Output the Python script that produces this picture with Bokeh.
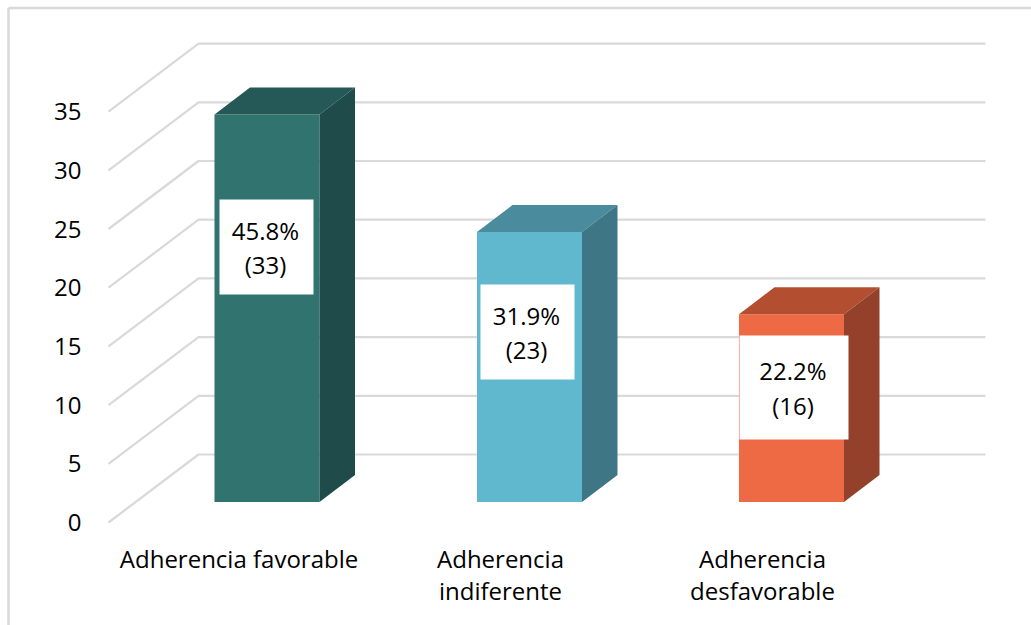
from bokeh.core.properties import value
from bokeh.embed import file_html
from bokeh.models import FixedTicker, Range1d
from bokeh.plotting import figure
from bokeh.resources import INLINE

# Survey results
categories = [["Adherencia favorable"], ["Adherencia", "indiferente"], ["Adherencia", "desfavorable"]]
counts = [33, 23, 16]
percents = ["45.8%", "31.9%", "22.2%"]
y_ticks = [0, 5, 10, 15, 20, 25, 30, 35]

# Colours per bar: front, top, side
front_colors = ["#30736F", "#60B8CF", "#EE6A45"]
top_colors = ["#255958", "#4A8C9E", "#B34F30"]
side_colors = ["#1F4B4A", "#3F7686", "#93412A"]

# Geometry of the oblique projection
W, H = 1031, 625
ZERO_PX = 522.0          # pixel row of value 0 on the front-left edge
PX_PER_UNIT = 58.7 / 5   # vertical pixels per value unit
FONT = value("Open Sans")
FONT_SIZE = "24px"
GRID = "#D9D9D9"


def v(py):
    """Convert a pixel row to the value scale of the y axis."""
    return (ZERO_PX - py) / PX_PER_UNIT


p = figure(width=W, height=H, output_backend="svg", toolbar_location=None,
           x_range=Range1d(0, W), y_range=Range1d(v(H), v(0)),
           min_border=0, outline_line_color=None, background_fill_color="white")
p.xaxis.visible = False
p.grid.visible = False

# Outer frame of the chart area
p.line([8, 8], [v(H), v(7.5)], line_color=GRID, line_width=2.5)
p.line([8, W], [v(7.5), v(7.5)], line_color=GRID, line_width=2.5)

# Side wall diagonals and back wall gridlines
WALL_X0, WALL_X1, WALL_X2 = 108, 198, 985
WALL_LIFT = v(ZERO_PX - 68)
p.multi_line([[WALL_X0, WALL_X1, WALL_X2] for _ in y_ticks],
             [[t, t + WALL_LIFT, t + WALL_LIFT] for t in y_ticks],
             line_color=GRID, line_width=2.2)

# Bars: front, top and side faces
BAR_X = [214, 476.5, 738.5]
BAR_W = 105
DEPTH_X, DEPTH_Y = 35.5, 27 / PX_PER_UNIT
BASE = v(501.5)
for i, n in enumerate(counts):
    x0, x1 = BAR_X[i], BAR_X[i] + BAR_W
    y0, y1 = BASE, BASE + n
    p.patch([x0, x1, x1, x0], [y0, y0, y1, y1], fill_color=front_colors[i], line_color=None)
    p.patch([x0, x1, x1 + DEPTH_X, x0 + DEPTH_X], [y1, y1, y1 + DEPTH_Y, y1 + DEPTH_Y],
            fill_color=top_colors[i], line_color=None)
    p.patch([x1, x1 + DEPTH_X, x1 + DEPTH_X, x1], [y0, y0 + DEPTH_Y, y1 + DEPTH_Y, y1],
            fill_color=side_colors[i], line_color=None)

# White value boxes with percentage and count
BOXES = [(219, 313, 199, 294), (480, 574, 284, 379), (739, 848, 335, 439)]
LINE_ROWS = [(230, 264), (315, 349), (370, 405)]
for i, (l, r, t, b) in enumerate(BOXES):
    p.quad(left=l, right=r, top=v(t), bottom=v(b), fill_color="white", line_color=None)
    cx = (l + r) / 2
    p.text([cx - 1], [v(LINE_ROWS[i][0])], text=[percents[i]], text_font=FONT, text_font_size=FONT_SIZE,
           text_color="#000000", text_align="center", text_baseline="middle")
    p.text([cx - 1], [v(LINE_ROWS[i][1])], text=[f"({counts[i]})"], text_font=FONT, text_font_size=FONT_SIZE,
           text_color="#000000", text_align="center", text_baseline="middle")

# Category captions below the floor
CAPTION_X = [238.5, 500, 762]
CAPTION_ROWS = [558, 590]
for cx, lines in zip(CAPTION_X, categories):
    for row, line in zip(CAPTION_ROWS, lines):
        p.text([cx], [v(row)], text=[line], text_font=FONT, text_font_size=FONT_SIZE,
               text_color="#000000", text_align="center", text_baseline="middle")

# Value axis without line or tick marks
axis = p.yaxis[0]
axis.fixed_location = 87
axis.ticker = FixedTicker(ticks=y_ticks)
axis.axis_line_color = None
axis.major_tick_line_color = None
axis.minor_tick_line_color = None
axis.major_label_standoff = 0
axis.major_label_text_font = "Open Sans"
axis.major_label_text_font_size = FONT_SIZE
axis.major_label_text_color = "#000000"

open("out.html", "w").write(file_html(p, INLINE))
